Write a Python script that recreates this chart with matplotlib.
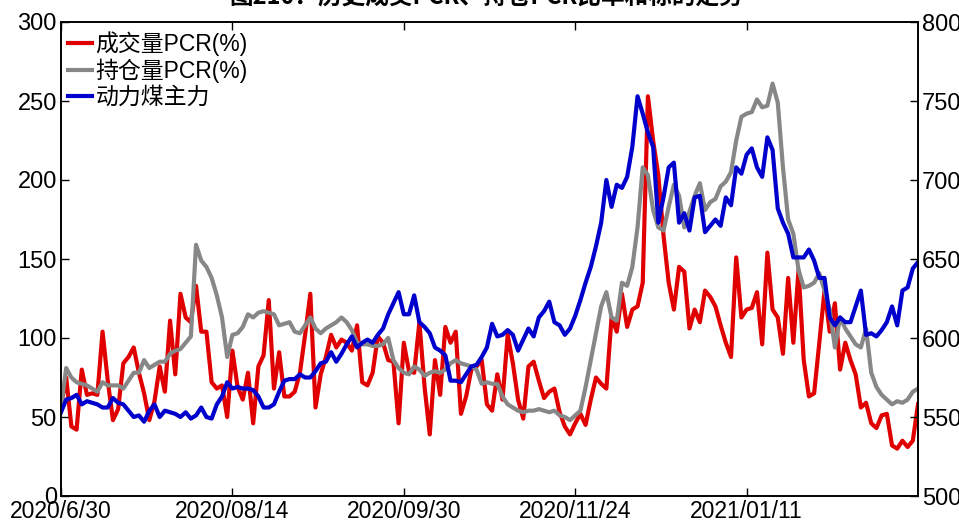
import numpy as np
import matplotlib
matplotlib.use('Agg')
import matplotlib.pyplot as plt

# donnees (un point par seance)
cjvl_pcr = [57, 75, 44, 42, 80, 64, 65, 64, 104, 73, 48, 55, 84, 88, 94, 78, 65, 48, 60, 82,
            66, 111, 77, 128, 113, 110, 133, 104, 104, 72, 68, 70, 50, 92, 69, 61, 78, 46, 82, 89,
            124, 68, 91, 63, 63, 66, 78, 102, 128, 56, 77, 88, 102, 94, 99, 97, 92, 108, 72, 70,
            78, 101, 97, 86, 85, 46, 97, 79, 78, 110, 69, 39, 86, 64, 107, 97, 104, 52, 63, 80,
            82, 86, 58, 54, 77, 61, 102, 84, 61, 49, 82, 85, 73, 62, 66, 68, 53, 44, 39, 46,
            52, 45, 61, 75, 71, 68, 113, 104, 128, 107, 118, 120, 135, 253, 225, 203, 165, 135, 118, 145,
            142, 106, 118, 110, 130, 126, 120, 108, 97, 88, 151, 113, 118, 119, 129, 96, 154, 118, 113, 90,
            138, 97, 143, 86, 63, 65, 97, 130, 104, 122, 80, 97, 86, 77, 56, 59, 46, 43, 51, 52,
            32, 30, 35, 31, 35, 58]

ccl_pcr = [56, 81, 75, 72, 71, 70, 68, 66, 72, 70, 70, 70, 68, 73, 78, 78, 86, 81, 83, 85,
           85, 90, 92, 93, 97, 101, 159, 149, 145, 138, 127, 113, 88, 102, 103, 107, 115, 113, 116, 117,
           116, 115, 108, 109, 110, 104, 103, 108, 113, 106, 103, 106, 108, 110, 113, 110, 105, 97, 96, 96,
           95, 95, 96, 100, 86, 81, 78, 77, 82, 80, 76, 78, 79, 78, 80, 84, 86, 84, 83, 82,
           80, 71, 72, 71, 71, 63, 58, 56, 54, 53, 54, 54, 55, 54, 53, 54, 51, 50, 48, 51,
           54, 69, 86, 103, 120, 129, 113, 111, 135, 133, 145, 170, 208, 203, 181, 170, 168, 183, 197, 190,
           170, 180, 190, 198, 181, 186, 188, 196, 199, 205, 225, 240, 242, 243, 251, 246, 247, 261, 249, 208,
           175, 166, 143, 132, 133, 135, 141, 130, 118, 94, 113, 106, 101, 96, 94, 106, 78, 69, 64, 61,
           58, 60, 59, 61, 66, 68]

dlm = [553, 561, 562, 564, 558, 560, 559, 558, 556, 556, 562, 559, 558, 554, 550, 551, 547, 554, 558, 550,
       554, 553, 552, 550, 553, 549, 551, 556, 550, 549, 558, 563, 572, 568, 569, 568, 568, 567, 563, 556,
       556, 558, 566, 573, 574, 574, 577, 575, 575, 579, 584, 585, 591, 585, 590, 596, 601, 594, 597, 599,
       597, 602, 606, 615, 622, 629, 615, 615, 627, 610, 607, 603, 594, 592, 589, 573, 573, 572, 577, 582,
       583, 588, 594, 609, 601, 602, 605, 602, 592, 599, 606, 601, 613, 617, 623, 610, 608, 602, 606, 614,
       624, 635, 645, 658, 673, 700, 683, 697, 695, 702, 721, 753, 742, 730, 721, 673, 689, 708, 711, 673,
       679, 668, 689, 690, 667, 671, 675, 671, 689, 684, 708, 704, 716, 720, 708, 702, 727, 719, 682, 673,
       666, 651, 651, 651, 656, 649, 638, 638, 613, 608, 613, 610, 610, 620, 630, 602, 603, 601, 605, 610,
       620, 608, 630, 632, 644, 648]

date_labels = ['2020/6/30', '2020/08/14', '2020/09/30', '2020/11/24', '2021/01/11']
date_idx = [0, 33, 66, 99, 132]
noms = ['成交量PCR(%)', '持仓量PCR(%)', '动力煤主力']

plt.rcParams['font.family'] = ['Liberation Sans', 'Noto Sans CJK SC']

fig = plt.figure(figsize=(9.59, 5.21), dpi=100)
ax = fig.add_axes([61/959, 1 - 496/521, 857/959, 474/521])
ax2 = ax.twinx()

x = np.arange(len(cjvl_pcr))
l1, = ax.plot(x, cjvl_pcr, color='#e00000', lw=3, label=noms[0])
l2, = ax.plot(x, ccl_pcr, color='#878787', lw=3, label=noms[1])
l3, = ax2.plot(x, dlm, color='#0000cc', lw=3, label=noms[2])

ax.set_xlim(0, len(x) - 1)
ax.set_ylim(0, 300)
ax2.set_ylim(500, 800)
ax.set_yticks(np.arange(0, 301, 50))
ax2.set_yticks(np.arange(500, 801, 50))
ax.set_xticks(date_idx)
ax.set_xticklabels(date_labels)

ax.tick_params(axis='both', direction='in', labelsize=17, length=6, width=1, top=True)
ax.tick_params(axis='y', pad=3)
ax.tick_params(axis='x', pad=3, labelsize=16.5)
ax2.tick_params(axis='y', direction='in', labelsize=17, length=6, width=1, pad=3)
for a in (ax, ax2):
  for s in a.spines.values():
    s.set_linewidth(1.2)

leg = ax2.legend(handles=[l1, l2, l3], loc='upper left', bbox_to_anchor=(68/959, 1 - 31/521),
                 bbox_transform=fig.transFigure, frameon=False, fontsize=16.5,
                 borderpad=0, borderaxespad=0, handlelength=1.05, handletextpad=0.15,
                 labelspacing=0.12)

# titre coupe en haut de l'image
fig.text(0.507, 1 - 5/521, '图210：历史成交PCR、持仓PCR比率和标的走势', ha='center', va='baseline',
         fontsize=17, fontweight='bold', family=['Noto Sans CJK SC', 'DejaVu Sans'])

fig.savefig('out.png', dpi=100)
